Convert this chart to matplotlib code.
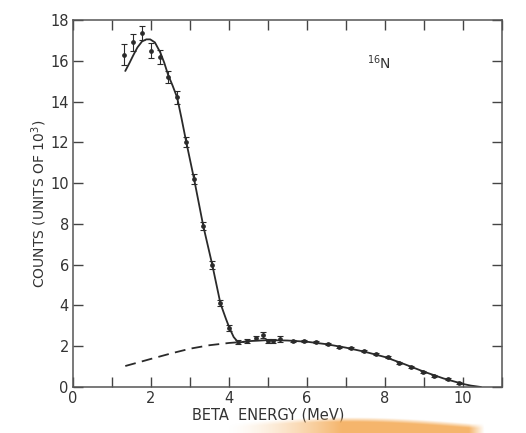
import numpy as np
import matplotlib
matplotlib.use("Agg")
import matplotlib.pyplot as plt

# Measured 16N beta spectrum (energy in MeV, counts in units of 10^3)
energy = [1.31, 1.54, 1.77, 2.00, 2.24, 2.44, 2.67, 2.90, 3.11, 3.34, 3.57, 3.78,
          4.01, 4.24, 4.47, 4.68, 4.88, 5.01, 5.14, 5.32, 5.63, 5.91, 6.22, 6.53,
          6.81, 7.12, 7.46, 7.76, 8.07, 8.35, 8.66, 8.97, 9.25, 9.61, 9.90]
counts = [16.3, 16.9, 17.35, 16.5, 16.2, 15.2, 14.2, 12.0, 10.2, 7.9, 6.0, 4.1,
          2.9, 2.2, 2.25, 2.4, 2.55, 2.25, 2.25, 2.35, 2.25, 2.25, 2.2, 2.1,
          1.97, 1.9, 1.75, 1.6, 1.45, 1.2, 1.0, 0.75, 0.55, 0.4, 0.2]
count_err = [0.5, 0.4, 0.35, 0.35, 0.35, 0.3, 0.3, 0.25, 0.25, 0.2, 0.2, 0.15,
             0.15, 0.1, 0.1, 0.1, 0.15, 0.1, 0.1, 0.15, 0.05, 0.05, 0.05, 0.05,
             0.05, 0.05, 0.05, 0.05, 0.05, 0.05, 0.05, 0.05, 0.05, 0.05, 0.05]

# Fitted total spectrum (solid)
fit_energy = [1.34, 1.45, 1.54, 1.65, 1.77, 1.88, 1.98, 2.10, 2.24, 2.34, 2.44,
              2.55, 2.67, 2.78, 2.90, 3.11, 3.34, 3.57, 3.78, 3.92, 4.01, 4.12,
              4.24, 4.5, 5.0, 5.5, 6.0, 6.5, 7.0, 7.5, 8.0, 8.5, 9.0, 9.5, 10.0,
              10.2, 10.46]
fit_counts = [15.5, 15.9, 16.25, 16.65, 16.95, 17.05, 17.05, 16.9, 16.4, 15.9, 15.3,
              14.8, 14.2, 13.2, 12.05, 10.15, 7.9, 6.0, 4.1, 3.35, 2.9, 2.45,
              2.18, 2.25, 2.3, 2.28, 2.22, 2.1, 1.93, 1.72, 1.47, 1.12, 0.75, 0.42, 0.15,
              0.07, 0.0]

# Extrapolated high-energy component (dashed)
bg_energy = [1.34, 1.7, 2.0, 2.5, 3.0, 3.5, 4.0, 4.4]
bg_counts = [1.03, 1.22, 1.38, 1.64, 1.88, 2.05, 2.16, 2.22]

ink = "#2a2a2a"
plt.rcParams["font.family"] = ["DejaVu Sans"]

fig = plt.figure(figsize=(5.26, 4.33), dpi=100)
ax = fig.add_axes([0.1388, 0.1062, 0.8156, 0.8476])

ax.plot(fit_energy, fit_counts, color=ink, lw=1.3, solid_capstyle="round")
ax.plot(bg_energy, bg_counts, color=ink, lw=1.3, dashes=(6, 3.5))
ax.errorbar(energy, counts, yerr=count_err, fmt="o", ms=2.4, color=ink,
            ecolor=ink, elinewidth=0.8, capsize=2.5, capthick=0.8)

ax.set_xlim(0, 11)
ax.set_ylim(0, 18)
ax.set_xticks(np.arange(0, 12, 1), minor=False)
ax.set_xticklabels(["0", "", "2", "", "4", "", "6", "", "8", "", "10", ""])
ax.set_yticks(np.arange(0, 19, 2))
ax.tick_params(direction="in", length=7, width=1.0, color="#444444",
               labelsize=10.5, labelcolor="#333333", top=True, right=True, pad=3)
for s in ax.spines.values():
    s.set_color("#555555")
    s.set_linewidth(1.1)

ax.set_ylabel("COUNTS (UNITS OF 10$^3$)", fontsize=10, color="#333333", labelpad=1)
ax.set_xlabel("BETA  ENERGY (MeV)", fontsize=10.5, color="#333333", labelpad=1)
ax.xaxis.set_label_coords(0.455, -0.056)

ax.text(7.55, 15.6, "$^{16}$N", fontsize=10, color="#333333")

# warm smudge along the lower edge
band = fig.add_axes([225 / 526, 0, 260 / 526, 16 / 433])
band.axis("off")
xs = np.linspace(0, 1, 300)
ys = np.linspace(0, 1, 40)
X, Y = np.meshgrid(xs, ys)
top = 0.6 + 0.4 * np.sin(np.pi * np.clip(X * 1.05, 0, 1))
alpha = np.clip((top - Y) / 0.3, 0, 1) * np.clip(X / 0.45, 0, 1) ** 1.5
alpha *= np.clip((1 - X) / 0.06, 0, 1)
img = np.zeros((40, 300, 4))
img[..., 0] = 0.96
img[..., 1] = 0.68
img[..., 2] = 0.36
img[..., 3] = alpha * 0.9
band.imshow(img, aspect="auto", origin="lower", extent=(0, 1, 0, 1))

fig.savefig("out.png", dpi=100)
